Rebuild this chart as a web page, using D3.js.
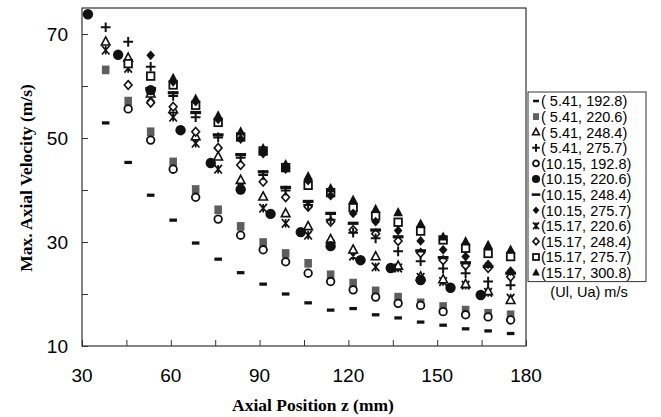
<!DOCTYPE html>
<html>
<head>
<meta charset="utf-8">
<script src="https://cdn.jsdelivr.net/npm/d3@7"></script>
<style>
body { margin: 0; background: #fff; }
svg { display: block; }
</style>
</head>
<body>
<div class="chart"></div>
<script>
// axial positions shared by most series (mm)
var zGrid = [38.0, 45.6, 53.2, 60.8, 68.4, 76.0, 83.6, 91.2, 98.8, 106.4, 114.0, 121.6, 129.2, 136.8, 144.4, 152.0, 159.6, 167.2, 174.8];
// the (10.15, 220.6) runs were measured at their own positions
var zFilled = [32.0, 42.2, 53.2, 63.3, 73.5, 83.6, 93.7, 103.9, 114.0, 124.1, 134.3, 144.4, 154.5, 164.7];

var seriesLabels = ['( 5.41, 192.8)', '( 5.41, 220.6)', '( 5.41, 248.4)', '( 5.41, 275.7)',
    '(10.15, 192.8)', '(10.15, 220.6)', '(10.15, 248.4)', '(10.15, 275.7)',
    '(15.17, 220.6)', '(15.17, 248.4)', '(15.17, 275.7)', '(15.17, 300.8)'];
var seriesMarkers = ['dashS', 'squareGrey', 'triOpen', 'plus', 'circleOpen', 'circleFill',
    'dashL', 'diamondFill', 'star', 'diamondOpen', 'squareOpen', 'triFill'];

var v541_1928 = [52.9, 45.3, 39.0, 34.2, 29.8, 26.7, 24.1, 21.9, 20.0, 18.3, 16.9, 17.2, 16.0, 15.4, 14.6, 14.0, 13.3, 12.9, 12.4];
var v541_2206 = [63.1, 57.1, 51.2, 45.4, 40.1, 36.2, 33.0, 29.9, 27.8, 25.9, 23.7, 22.1, 20.6, 19.4, 18.3, 17.6, 16.9, 16.3, 16.0];
var v541_2484 = [68.5, 65.4, 58.5, 55.5, 50.3, 46.4, 41.9, 38.7, 35.5, 33.0, 30.5, 28.5, 27.2, 25.4, 23.3, 22.8, 21.9, 20.5, 18.8];
var v541_2757 = [71.3, 68.5, 63.7, 58.1, 54.0, 50.1, 46.2, 42.9, 39.9, 37.1, 34.3, 31.8, 30.7, 28.2, 26.3, 24.9, 24.0, 22.4, 21.7];
var v1015_1928 = [null, 55.6, 49.6, 44.0, 38.6, 34.4, 31.3, 28.5, 26.2, 24.0, 22.4, 20.8, 19.4, 18.2, 17.8, 16.6, 16.0, 15.6, 15.0];
var v1015_2206 = [73.8, 66.0, 59.2, 51.5, 45.2, 40.1, 35.4, 31.9, 29.2, 26.5, 25.0, 22.7, 21.2, 19.8];
var v1015_2484 = [null, null, 59.5, 58.7, 54.9, 50.6, 46.8, 43.5, 40.5, 37.8, 35.5, 33.6, 32.3, 31.0, 28.3, 27.0, 26.0, 25.3, 24.0];
var v1015_2757 = [null, null, 65.9, 60.8, 57.0, 53.6, 49.8, 47.0, 44.0, 41.8, 38.9, 35.5, 33.9, 32.2, 30.2, 28.5, 27.2, 25.7, 24.4];
var v1517_2206 = [66.9, 63.4, 57.8, 54.0, 49.0, 44.0, 40.6, 36.5, 33.6, 31.3, 29.6, 27.3, 25.2, 25.0, 23.2, 22.4, 21.7, 20.3, 19.2];
var v1517_2484 = [null, 60.2, 56.8, 56.0, 51.2, 48.1, 44.8, 41.6, 38.6, 36.8, 33.9, 32.3, 31.6, 30.2, 27.9, 26.5, 25.5, 25.0, 23.3];
var v1517_2757 = [null, 64.3, 61.9, 60.2, 56.3, 53.0, 50.2, 47.5, 44.3, 40.9, 39.5, 36.6, 35.0, 33.8, 32.1, 30.4, 28.8, 27.8, 27.2];
var v1517_3008 = [null, null, null, 61.5, 57.5, 54.3, 51.2, 48.0, 44.9, 42.6, 40.3, 38.1, 36.3, 35.7, 33.5, 31.0, 30.1, 29.4, 28.5];

var seriesValues = [v541_1928, v541_2206, v541_2484, v541_2757, v1015_1928, v1015_2206,
    v1015_2484, v1015_2757, v1517_2206, v1517_2484, v1517_2757, v1517_3008];

var xTicks = [30, 45, 60, 75, 90, 105, 120, 135, 150, 165, 180];
var xLabels = [30, 60, 90, 120, 150, 180];
var yTicks = [10, 20, 30, 40, 50, 60, 70];
var yLabels = [10, 30, 50, 70];

var W = 661, H = 417;
var plot = { left: 82, right: 526, top: 8, bottom: 346 };

var svg = d3.select('.chart')
    .append('svg')
    .attr('width', W)
    .attr('height', H);

svg.append('rect').attr('width', W).attr('height', H).attr('fill', '#fff');

var xScale = d3.scaleLinear().domain([30, 180]).range([plot.left, plot.right]);
var yScale = d3.scaleLinear().domain([10, 75]).range([plot.bottom, plot.top]);

// frame
svg.append('rect')
    .attr('x', plot.left)
    .attr('y', plot.top)
    .attr('width', plot.right - plot.left)
    .attr('height', plot.bottom - plot.top)
    .attr('fill', 'none')
    .attr('stroke', '#333')
    .attr('stroke-width', 1.2);

// inward ticks
var xAxis = d3.axisBottom(xScale).tickValues(xTicks).tickSizeInner(-6).tickSizeOuter(0).tickFormat('');
svg.append('g')
    .attr('transform', `translate(0, ${plot.bottom})`)
    .call(xAxis)
    .call(g => g.select('.domain').remove())
    .call(g => g.selectAll('line').attr('stroke', '#333'));

var yAxis = d3.axisLeft(yScale).tickValues(yTicks).tickSizeInner(-6).tickSizeOuter(0).tickFormat('');
svg.append('g')
    .attr('transform', `translate(${plot.left}, 0)`)
    .call(yAxis)
    .call(g => g.select('.domain').remove())
    .call(g => g.selectAll('line').attr('stroke', '#333'));

svg.selectAll('.xlab')
    .data(xLabels)
    .enter()
    .append('text')
    .attr('x', d => xScale(d))
    .attr('y', 382)
    .attr('text-anchor', 'middle')
    .style('font', '19px "Liberation Sans", Arial, sans-serif')
    .text(d => d);

svg.selectAll('.ylab')
    .data(yLabels)
    .enter()
    .append('text')
    .attr('x', 68)
    .attr('y', d => yScale(d) + 7)
    .attr('text-anchor', 'end')
    .style('font', '19px "Liberation Sans", Arial, sans-serif')
    .text(d => d);

svg.append('text')
    .attr('x', 313)
    .attr('y', 411)
    .attr('text-anchor', 'middle')
    .style('font', 'bold 17.5px "Liberation Serif", "Times New Roman", serif')
    .text('Axial Position z (mm)');

svg.append('text')
    .attr('transform', 'translate(32, 178) rotate(-90)')
    .attr('text-anchor', 'middle')
    .style('font', 'bold 17.5px "Liberation Serif", "Times New Roman", serif')
    .text('Max. Axial Velocity (m/s)');

// marker drawing
function drawMarker(g, type, s) {
    s = s || 1;
    switch (type) {
        case 'dashS':
            g.append('rect').attr('x', -3.5 * s).attr('y', -1.5 * s).attr('width', 7 * s).attr('height', 3 * s).attr('fill', '#111');
            break;
        case 'dashL':
            g.append('rect').attr('x', -5 * s).attr('y', -1.5 * s).attr('width', 10 * s).attr('height', 3 * s).attr('fill', '#111');
            break;
        case 'squareGrey':
            g.append('rect').attr('x', -3.5 * s).attr('y', -4 * s).attr('width', 7 * s).attr('height', 8 * s).attr('fill', '#5e5e5e');
            break;
        case 'squareOpen':
            g.append('rect').attr('x', -3.5 * s).attr('y', -3.5 * s).attr('width', 7 * s).attr('height', 7 * s)
                .attr('fill', '#fff').attr('stroke', '#111').attr('stroke-width', 1.8);
            break;
        case 'triOpen':
            g.append('path').attr('d', `M0,${-4.5 * s}L${4 * s},${3 * s}L${-4 * s},${3 * s}Z`)
                .attr('fill', '#fff').attr('stroke', '#111').attr('stroke-width', 1.6);
            break;
        case 'triFill':
            g.append('path').attr('d', `M0,${-5 * s}L${4.5 * s},${3.5 * s}L${-4.5 * s},${3.5 * s}Z`).attr('fill', '#111');
            break;
        case 'plus':
            g.append('path').attr('d', `M${-4.5 * s},0H${4.5 * s}M0,${-4.5 * s}V${4.5 * s}`)
                .attr('stroke', '#111').attr('stroke-width', 2).attr('fill', 'none');
            break;
        case 'circleOpen':
            g.append('circle').attr('r', 3.5 * s).attr('fill', '#fff').attr('stroke', '#111').attr('stroke-width', 1.8);
            break;
        case 'circleFill':
            g.append('circle').attr('r', 4.8 * s).attr('fill', '#111');
            break;
        case 'diamondFill':
            g.append('path').attr('d', `M0,${-4.5 * s}L${4 * s},0L0,${4.5 * s}L${-4 * s},0Z`).attr('fill', '#111');
            break;
        case 'diamondOpen':
            g.append('path').attr('d', `M0,${-4 * s}L${3.6 * s},0L0,${4 * s}L${-3.6 * s},0Z`)
                .attr('fill', '#fff').attr('stroke', '#111').attr('stroke-width', 1.6);
            break;
        case 'star':
            g.append('path').attr('d', `M${-3.5 * s},${-4 * s}L${3.5 * s},${4 * s}M${3.5 * s},${-4 * s}L${-3.5 * s},${4 * s}M0,${-4 * s}V${4 * s}`)
                .attr('stroke', '#111').attr('stroke-width', 1.7).attr('fill', 'none');
            break;
    }
}

// build points
var drawOrder = [0, 1, 4, 8, 2, 9, 3, 6, 10, 7, 11, 5];
drawOrder.forEach(function (si) {
    var zs = si === 5 ? zFilled : zGrid;
    var pts = seriesValues[si]
        .map((v, i) => ({ z: zs[i], v: v }))
        .filter(d => d.v !== null);
    svg.selectAll('.s' + si)
        .data(pts)
        .enter()
        .append('g')
        .attr('class', 's' + si)
        .attr('transform', d => `translate(${xScale(d.z)}, ${yScale(d.v)})`)
        .each(function () { drawMarker(d3.select(this), seriesMarkers[si], 1.08); });
});

// legend
var lg = { x: 528, y: 92, w: 118, row: 15.6 };
svg.append('rect')
    .attr('x', lg.x)
    .attr('y', lg.y)
    .attr('width', lg.w)
    .attr('height', lg.row * 11 + 18)
    .attr('fill', '#fff')
    .attr('stroke', '#333')
    .attr('stroke-width', 1);

var items = svg.selectAll('.leg')
    .data(seriesLabels)
    .enter()
    .append('g')
    .attr('class', 'leg')
    .attr('transform', (d, i) => `translate(${lg.x + 8}, ${lg.y + 9 + i * lg.row})`);

items.each(function (d, i) { drawMarker(d3.select(this), seriesMarkers[i], 0.85); });

items.append('text')
    .attr('x', 5)
    .attr('y', 5.3)
    .style('font', '14.5px "Liberation Sans", Arial, sans-serif')
    .text(d => d);

svg.append('text')
    .attr('x', lg.x + lg.w / 2 + 2)
    .attr('y', lg.y + lg.row * 11 + 33)
    .attr('text-anchor', 'middle')
    .style('font', '14.5px "Liberation Sans", Arial, sans-serif')
    .text('(Ul, Ua) m/s');
</script>
</body>
</html>
